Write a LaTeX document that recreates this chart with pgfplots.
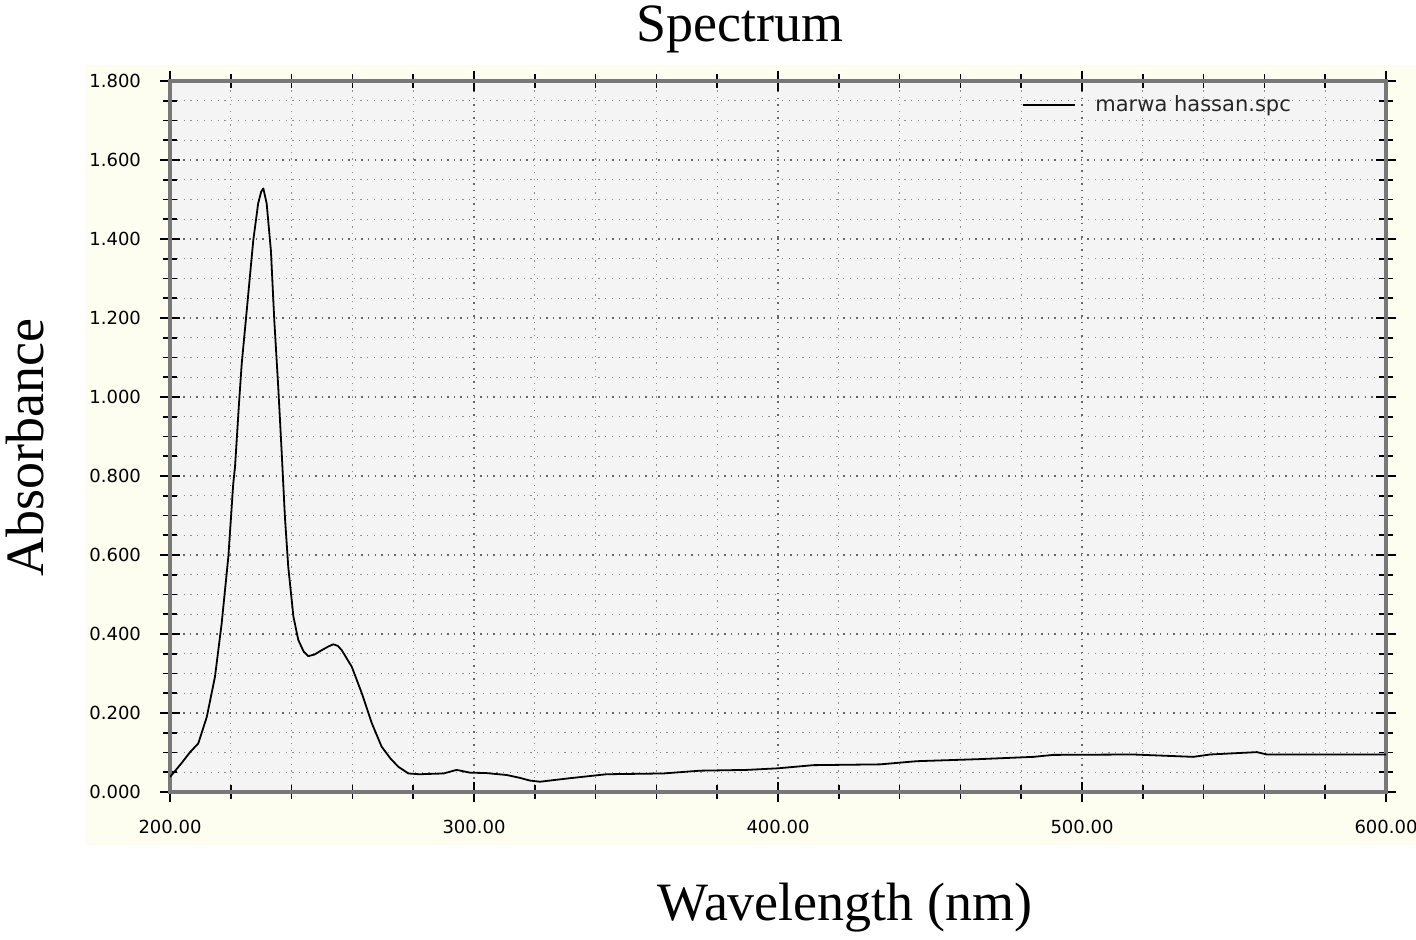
\documentclass[border=0pt]{standalone}
\usepackage{fontspec}
\setmainfont{Liberation Serif}
\newfontfamily\tickfont{DejaVu Sans}
\usepackage{pgfplots}
\pgfplotsset{compat=1.18}
\definecolor{ivory}{RGB}{254,254,240}
\definecolor{plotbg}{RGB}{244,244,244}
\definecolor{axgray}{RGB}{120,120,120}
\begin{document}
\begin{tikzpicture}
\path[use as bounding box] (-85pt,-73.5pt) rectangle (623pt,396pt);
\fill[ivory] (-42.5pt,-26.5pt) rectangle (623pt,363.5pt);
\begin{axis}[
  at={(0pt,0pt)}, anchor=south west,
  scale only axis, width=608pt, height=355.5pt,
  xmin=200, xmax=600, ymin=0, ymax=1.8,
  xtick={200,300,400,500,600},
  ytick={0,0.2,0.4,0.6,0.8,1.0,1.2,1.4,1.6,1.8},
  minor x tick num=4, minor y tick num=3,
  tick align=center,
  major tick length=10pt, minor tick length=7pt,
  tick style={black, line width=0.8pt},
  axis line style={axgray, line width=1.6pt},
  axis background/.style={fill=plotbg},
  grid=both,
  major grid style={line width=0.7pt, dash pattern=on 0.7pt off 2.6pt, black!60},
  minor grid style={line width=0.6pt, dash pattern=on 0.6pt off 2.8pt, black!45},
  /pgf/number format/assume math mode=true,
  ticklabel style={font=\tickfont\fontsize{9}{10}\selectfont, text=black},
  xticklabel style={/pgf/number format/.cd, fixed, fixed zerofill, precision=2, /tikz/.cd, yshift=-5.5pt},
  yticklabel style={/pgf/number format/.cd, fixed, fixed zerofill, precision=3, /tikz/.cd, xshift=-6pt},
  every axis title shift=0pt,
  title={Spectrum},
  title style={at={(axis description cs:0.469,1.0555)}, anchor=base, font=\fontsize{27}{30}\selectfont},
  xlabel={Wavelength (nm)},
  xlabel style={at={(axis description cs:0.555,-0.163)}, anchor=center, font=\fontsize{27}{30}\selectfont},
  ylabel={Absorbance},
  ylabel style={at={(axis description cs:-0.119,0.485)}, anchor=center, font=\fontsize{27}{30}\selectfont},
  legend style={at={(axis description cs:0.70,0.966)}, anchor=west, draw=none, fill=none,
    font=\tickfont\fontsize{10.5}{12}\selectfont, text=black!85, inner sep=0pt, column sep=8pt},
  legend image code/.code={\draw[#1] (0pt,0pt) -- (26pt,0pt);},
]
\addplot[black, line width=0.9pt, line join=round] coordinates {
(200,0.038) (203.8,0.073) (206.5,0.100) (209.3,0.123) (212.1,0.190) (214.8,0.292)
(217,0.427) (219.2,0.596) (220.8,0.780) (221.4,0.824) (222.7,0.984) (223.6,1.085)
(225,1.199) (227.4,1.397) (229,1.490) (230,1.520) (230.7,1.528) (231.8,1.490)
(233.2,1.370) (234.3,1.195) (235.6,1.026) (236.7,0.866) (237.8,0.697) (238.9,0.570)
(240.6,0.444) (242.2,0.385) (244,0.355) (245.5,0.344) (247.5,0.348) (249.9,0.359)
(252,0.368) (253.7,0.374) (255.2,0.370) (256.5,0.359) (259.8,0.317) (263.1,0.250)
(266.4,0.174) (269.6,0.115) (272.5,0.085) (275.1,0.064) (278.4,0.047) (282,0.045)
(290,0.047) (294.3,0.056) (298.7,0.049) (304,0.048) (310.8,0.043) (315,0.036)
(318.4,0.029) (321.7,0.026) (326,0.030) (331.6,0.035) (343.6,0.045) (362.3,0.047)
(374.3,0.054) (389.7,0.056) (400,0.060) (411.6,0.068) (433.6,0.070) (445.6,0.078)
(465.4,0.083) (484,0.089) (490.6,0.094) (516.9,0.095) (536.6,0.089) (542.1,0.095)
(557.5,0.101) (560.8,0.095) (581.6,0.095) (600,0.095)
};
\addlegendentry{marwa hassan.spc}
\end{axis}
\end{tikzpicture}
\end{document}
